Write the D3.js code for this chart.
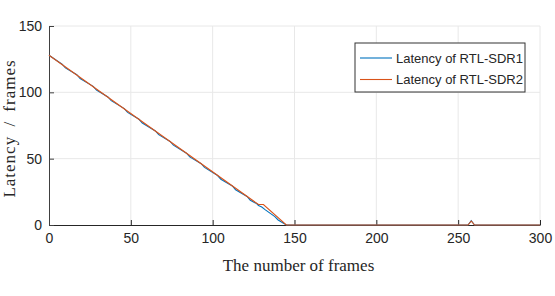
<!DOCTYPE html>
<html>
<head>
<meta charset="utf-8">
<script src="https://cdn.jsdelivr.net/npm/d3@7"></script>
<style>
  body { margin: 0; background: #fff; }
  .tick text { font-family: "Liberation Sans", Arial, sans-serif; font-size: 14px; fill: #262626; }
</style>
</head>
<body>
<div id="chart"></div>
<script>
// series: [frame, latency]
var sdr1 = [[0,128],[8,121.2],[10,118.4],[17,113.3],[19,110.4],[27,104.5],[29,101.7],[36,96.5],[38,93.7],
  [46,87.7],[48,84.9],[55,79.7],[57,76.9],[65,70.9],[67,68.1],[74,63.0],[76,60.2],[84,54.1],[86,51.3],
  [93,46.2],[95,43.4],[103,37.3],[105,34.5],[112,29.4],[114,26.6],[121,21.5],[123,18.7],[127,16.0],
  [128,14.6],[130,13.6],[132,11.6],[138,6.3],[140,3.8],[145,0],[256,0],[258,3.2],[260,0],[300,0]];
var sdr2 = [[0,128],[128,15.4],[131,15.4],[145,0],[256,0],[258,3],[260,0],[300,0]];
var seriesNames = ["Latency of RTL-SDR1", "Latency of RTL-SDR2"];
var seriesColors = ["#0072BD", "#D95319"];
var xTicks = [0, 50, 100, 150, 200, 250, 300];
var yTicks = [0, 50, 100, 150];

var margin = {top: 26, right: 15, bottom: 71, left: 49},
  width = 555 - margin.left - margin.right,
  height = 296 - margin.top - margin.bottom;

var svg = d3.select("#chart")
.append("svg")
  .attr("width", width + margin.left + margin.right)
  .attr("height", height + margin.top + margin.bottom)
.append("g")
  .attr("transform", "translate(" + margin.left + "," + margin.top + ")");

var x = d3.scaleLinear().domain([0, 300]).range([0, width]);
var y = d3.scaleLinear().domain([0, 150]).range([height, 0]);

// grid
svg.append("g").selectAll("line").data(xTicks.slice(1)).enter().append("line")
  .attr("x1", d => x(d)).attr("x2", d => x(d)).attr("y1", 0).attr("y2", height)
  .style("stroke", "#e8e8e8").style("stroke-width", 1);
svg.append("g").selectAll("line").data(yTicks.slice(1)).enter().append("line")
  .attr("x1", 0).attr("x2", width).attr("y1", d => y(d)).attr("y2", d => y(d))
  .style("stroke", "#e8e8e8").style("stroke-width", 1);

// axes
var xAxis = svg.append("g")
  .attr("transform", "translate(0," + height + ")")
  .call(d3.axisBottom(x).tickValues(xTicks).tickSizeInner(-5).tickSizeOuter(0).tickPadding(12));
var yAxis = svg.append("g")
  .call(d3.axisLeft(y).tickValues(yTicks).tickSizeInner(-5).tickSizeOuter(0).tickPadding(7));
xAxis.selectAll(".domain, .tick line").style("stroke", "#262626");
yAxis.selectAll(".domain, .tick line").style("stroke", "#404040");
xAxis.selectAll(".tick text").attr("dy", "0.4em");

// lines
var line = d3.line().x(d => x(d[0])).y(d => y(d[1]));
[sdr1, sdr2].forEach(function(s, i) {
  svg.append("path")
    .datum(s)
    .attr("d", line)
    .style("fill", "none")
    .style("stroke", seriesColors[i])
    .style("stroke-width", 1.1);
});

// axis titles
svg.append("text")
  .attr("x", width / 2 + 4).attr("y", 245)
  .attr("text-anchor", "middle")
  .style("font-family", "'Liberation Serif', serif").style("font-size", "17px").style("fill", "#262626")
  .text("The number of frames");
svg.append("text")
  .attr("transform", "translate(-34," + (height / 2 + 3) + ") rotate(-90)")
  .attr("text-anchor", "middle")
  .style("font-family", "'Liberation Serif', serif").style("font-size", "17px").style("fill", "#262626")
  .style("letter-spacing", "1px").style("word-spacing", "4px")
  .text("Latency / frames");

// legend
var lg = svg.append("g").attr("transform", "translate(" + (355 - margin.left) + "," + (43 - margin.top) + ")");
lg.append("rect").attr("width", 170).attr("height", 49)
  .style("fill", "#fff").style("stroke", "#333").style("stroke-width", 1);
seriesNames.forEach(function(n, i) {
  var ly = 15 + i * 21.5;
  lg.append("line").attr("x1", 5).attr("x2", 37).attr("y1", ly).attr("y2", ly)
    .style("stroke", seriesColors[i]).style("stroke-width", 1.1);
  lg.append("text").attr("x", 41).attr("y", ly).attr("dy", "0.35em")
    .style("font-family", "'Liberation Sans', Arial, sans-serif").style("font-size", "13px").style("fill", "#262626")
    .text(n);
});
</script>
</body>
</html>
